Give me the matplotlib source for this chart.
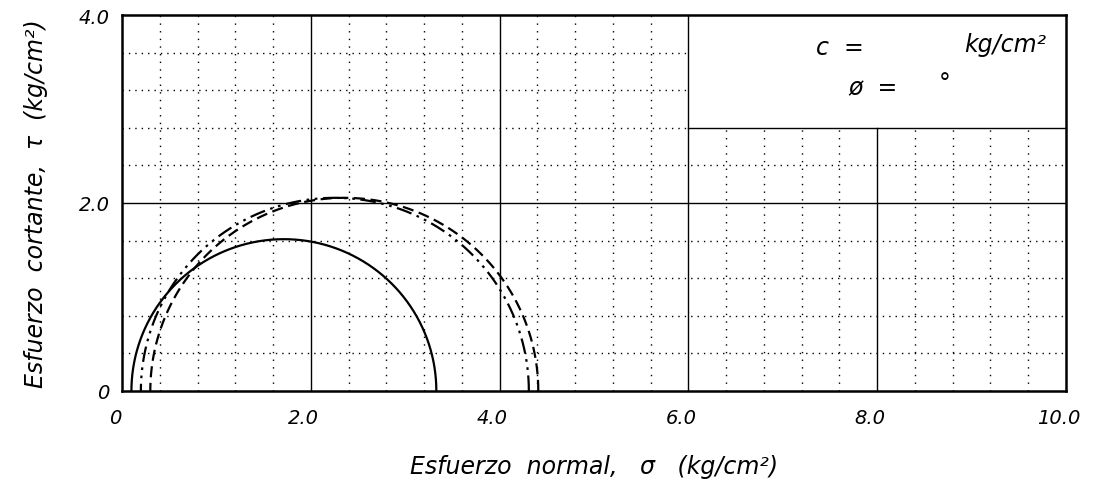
import matplotlib
matplotlib.use('Agg')
import matplotlib.pyplot as plt
import matplotlib.transforms as mtransforms
import numpy as np

# Mohr circles: minor / major principal stresses (kg/cm2)
sigma3 = [0.10, 0.20, 0.30]
sigma1 = [3.33, 4.31, 4.41]
styles = ['-', (0, (7, 2.5, 1.2, 2.5, 1.2, 2.5)), (0, (5, 2.5))]

x_ticks = [0, 2.0, 4.0, 6.0, 8.0, 10.0]
x_labels = ['0', '2.0', '4.0', '6.0', '8.0', '10.0']
y_ticks = [0, 2.0, 4.0]
y_labels = ['0', '2.0', '4.0']
minor_step = 0.4

# result box (upper right)
box_x0, box_y0 = 6.0, 2.8

fig = plt.figure(figsize=(10.94, 4.85), dpi=100)
ax = fig.add_axes([0.1115, 0.1918, 0.8629, 0.7752])
ax.set_xlim(0, 10)
ax.set_ylim(0, 4)

font = dict(family='DejaVu Sans', style='italic')

# dotted minor grid
for x in np.arange(minor_step, 10, minor_step):
    if abs(x / 2 - round(x / 2)) < 1e-6:
        continue
    top = box_y0 if x > box_x0 else 4
    ax.plot([x, x], [0, top], color='black', lw=1, linestyle=(0, (1, 4.5)))
for y in np.arange(minor_step, 4, minor_step):
    if abs(y / 2 - round(y / 2)) < 1e-6:
        continue
    right = box_x0 if y >= box_y0 - 1e-6 else 10
    ax.plot([0, right], [y, y], color='black', lw=1, linestyle=(0, (1, 3.6)))

# major grid
for x in [2, 4, 6]:
    ax.plot([x, x], [0, 4], color='black', lw=1)
ax.plot([8, 8], [0, box_y0], color='black', lw=1)
ax.plot([0, 10], [2, 2], color='black', lw=1)
ax.plot([box_x0, 10], [box_y0, box_y0], color='black', lw=1)

# circles
t = np.linspace(0, np.pi, 400)
for s3, s1, ls in zip(sigma3, sigma1, styles):
    c = (s1 + s3) / 2
    r = (s1 - s3) / 2
    ax.plot(c + r * np.cos(t), r * np.sin(t), color='black', lw=1.6,
            linestyle=ls, zorder=5)

for sp in ax.spines.values():
    sp.set_linewidth(1.8)

ax.set_xticks(x_ticks)
ax.set_xticklabels(x_labels, fontsize=14, **font)
ax.set_yticks(y_ticks)
ax.set_yticklabels(y_labels, fontsize=14, **font)
ax.tick_params(length=0)
ax.tick_params(axis='y', pad=9)
ax.tick_params(axis='x', pad=12)
shift = mtransforms.ScaledTranslation(-0.07, 0, fig.dpi_scale_trans)
for lbl in ax.get_xticklabels():
    lbl.set_transform(lbl.get_transform() + shift)

ax.set_xlabel('Esfuerzo  normal,   σ   (kg/cm²)', fontsize=17, labelpad=20, **font)
ax.set_ylabel('Esfuerzo  cortante,  τ  (kg/cm²)', fontsize=17, labelpad=22, **font)

ax.text(7.6, 3.66, 'c  =', fontsize=17, ha='center', va='center', **font)
ax.text(9.36, 3.69, 'kg/cm²', fontsize=17, ha='center', va='center', **font)
ax.text(7.95, 3.23, 'ø  =', fontsize=17, ha='center', va='center', **font)
ax.text(8.72, 3.28, '°', fontsize=17, ha='center', va='center', **font)

fig.savefig('out.png', dpi=100)
